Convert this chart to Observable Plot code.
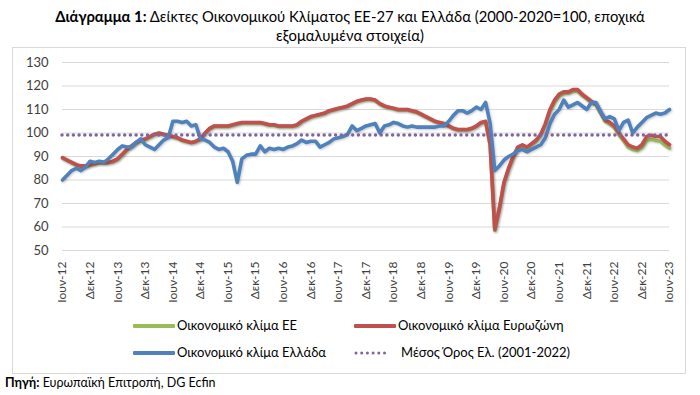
<!DOCTYPE html>
<html>
<head>
<meta charset="utf-8">
<script src="https://cdn.jsdelivr.net/npm/d3@7"></script>
<script src="https://cdn.jsdelivr.net/npm/@observablehq/plot@0.6"></script>
<style>
  body { margin:0; width:700px; height:395px; position:relative; background:#fff; font-family: Lato, "Open Sans", sans-serif; overflow:hidden; }
  #title { position:absolute; top:7px; left:0; width:700px; text-align:center; font-size:14.8px; line-height:19px; color:#000; }
  #box { position:absolute; left:12px; top:47px; width:672px; height:325px; border:1px solid #d9d9d9; }
  #chart { position:absolute; left:0; top:48px; }
  .leg { position:absolute; font-size:13px; color:#000; white-space:nowrap; }
  .sw { position:absolute; height:4px; border-radius:1px; }
  #source { position:absolute; left:5px; top:375px; font-size:12.5px; color:#000; }
</style>
</head>
<body>
<div id="title"><b>Διάγραμμα 1:</b> Δείκτες Οικονομικού Κλίματος ΕΕ-27 και Ελλάδα (2000-2020=100, εποχικά<br>εξομαλυμένα στοιχεία)</div>
<div id="box"></div>
<div id="chart"></div>
<div id="legend"></div>
<div id="source"><b>Πηγή:</b> Ευρωπαϊκή Επιτροπή, DG Ecfin</div>
<script>
// Monthly data, June 2012 – June 2023
const xTickLabels = ["Ιουν-12","Δεκ-12","Ιουν-13","Δεκ-13","Ιουν-14","Δεκ-14","Ιουν-15","Δεκ-15","Ιουν-16","Δεκ-16","Ιουν-17","Δεκ-17","Ιουν-18","Δεκ-18","Ιουν-19","Δεκ-19","Ιουν-20","Δεκ-20","Ιουν-21","Δεκ-21","Ιουν-22","Δεκ-22","Ιουν-23"];
const yTicks = [50,60,70,80,90,100,110,120,130];

const euroArea = [
  89.5,88.5,87.5,86.5,86,86,86.5,
  87,87.5,87.5,87.5,88,89,91,93,94.5,96,97,97.5,
  98.5,99.5,100,99.5,99,98.5,98,97,96.5,96,96.5,97.5,
  100,102,103,103,103,103,103.5,104,104.5,104.5,104.5,104.5,
  104.5,104,103.5,103.5,103,103,103,103,103.5,105,106,107,
  107.5,108,108.5,109.5,110,110.5,111,111.5,112.5,113.5,114,114.5,
  114.5,114,112.5,111.5,111,110.5,110,110,110,109.5,109,108,
  107,106,105,104.5,104,103,102,101.5,101.5,101.5,102,103,
  104.5,105,95,59,68,79,85,90,94,95,94,95.5,
  97,99.5,104,110,114,116.5,117.5,117.5,118.5,118.5,116.5,115,
  113.5,112.5,109,105.5,104.5,103,100,97.5,95,94,93.5,95,
  98.5,99,98.5,98.5,96.5,95
];
const eu = [
  89.3,88.3,87.3,86.3,85.8,85.8,86.3,
  86.8,87.3,87.3,87.3,87.8,88.8,90.8,92.8,94.3,95.8,96.8,97.3,
  98.3,99.3,99.8,99.3,98.8,98.3,97.8,96.8,96.3,95.8,96.3,97.3,
  99.8,101.8,102.8,102.8,102.8,102.8,103.3,103.8,104.3,104.3,104.3,104.3,
  104.3,103.8,103.3,103.3,102.8,102.8,102.8,102.8,103.3,104.8,105.8,106.8,
  107.3,107.8,108.3,109.3,109.8,110.3,110.8,111.3,112.3,113.3,113.8,114.3,
  114.3,113.8,112.3,111.3,110.8,110.3,109.8,109.8,109.8,109.3,108.8,107.8,
  106.8,105.8,104.8,104.3,103.8,102.8,101.8,101.3,101.3,101.3,101.8,102.8,
  104.3,104.8,94.8,58.5,67.5,78.5,84.5,89.5,93.5,94.5,93.5,95,
  96.5,99,103.5,109.5,113.3,115.8,116.8,117,117.8,117.8,116,114.5,
  113,112,108.5,105,103.8,102.3,99.2,96.7,94,93,92.5,93.8,
  96.8,97.3,96.8,96.5,94.8,93.5
];
const greece = [
  80,82,84,85,84,85.5,88,
  87.5,88,87.5,89,91,93,94.5,94,94,96,97.5,95,
  94,93,95,97,98,105,105,104.5,105,103,103.5,97.5,
  97,96,94,93,93.5,92,88,79,89,90.5,91,91,
  94.5,92,93.5,93,93.5,93,94,94.5,95.5,97,96,96.5,
  96.5,94,95,96,97.5,98,98.5,99.5,103,101,102,103,
  103.5,104,100,103,103.5,104.5,104,103,102.5,103,102.5,102.5,
  102.5,102.5,102.5,103,103,105,107.5,109.5,109.5,108.5,109.5,111,
  110,113,104,84,86,88.5,90,91,92.5,93,92,93,
  94,95,98,104,108,110,114,111,112,113,111.5,110,
  113,113,109,106,107,106,101,104.5,105.5,100,102.5,104.5,
  106.5,107.5,108.5,108,108.5,110
];
const greeceMean = 99.2;

const colors = { eu: "#9bbb59", ea: "#c0504d", gr: "#4f81bd", mean: "#8064a2" };
const idx = (d, i) => i;
const val = d => d;
const lw = 3.6;

const chart = Plot.plot({
  width: 700,
  height: 257,
  marginTop: 14,
  marginBottom: 55,
  marginLeft: 62,
  marginRight: 31,
  style: { fontFamily: "Lato, 'Open Sans', sans-serif", background: "transparent", overflow: "visible" },
  x: { domain: [0, 132] },
  y: { domain: [50, 130] },
  marks: [
    Plot.ruleY(yTicks, { stroke: "#d9d9d9", strokeWidth: 1 }),
    Plot.axisY({ ticks: yTicks, tickSize: 0, tickPadding: 14, fontSize: 13, color: "#404040", label: null }),
    Plot.axisX({ ticks: d3.range(0, 133, 6), tickFormat: i => xTickLabels[i / 6], tickSize: 0, tickPadding: 11, tickRotate: -90, fontSize: 12, color: "#404040", label: null }),
    Plot.lineY(eu, { x: idx, y: val, stroke: colors.eu, strokeWidth: lw, strokeLinejoin: "round" }),
    Plot.lineY(euroArea, { x: idx, y: val, stroke: colors.ea, strokeWidth: lw, strokeLinejoin: "round" }),
    Plot.lineY(greece, { x: idx, y: val, stroke: colors.gr, strokeWidth: lw, strokeLinejoin: "round" }),
    Plot.ruleY([greeceMean], { stroke: colors.mean, strokeWidth: 3.5, strokeDasharray: "0 5.7", strokeLinecap: "round" })
  ]
});
chart.querySelectorAll("g[aria-label='line'] path").forEach(p => p.style.filter = "drop-shadow(1px 1.5px 1px rgba(0,0,0,0.22))");
document.getElementById("chart").appendChild(chart);

// Legend
const legendItems = [
  { label: "Οικονομικό κλίμα ΕΕ", color: colors.eu, x: 133, y: 326, type: "line" },
  { label: "Οικονομικό κλίμα Ευρωζώνη", color: colors.ea, x: 354, y: 326, type: "line" },
  { label: "Οικονομικό κλίμα Ελλάδα", color: colors.gr, x: 133, y: 353, type: "line" },
  { label: "Μέσος Όρος Ελ. (2001-2022)", color: colors.mean, x: 354, y: 353, type: "dots" }
];
const leg = document.getElementById("legend");
for (const it of legendItems) {
  if (it.type === "line") {
    const s = document.createElement("div");
    s.className = "sw";
    s.style.cssText = `left:${it.x}px;top:${it.y - 2}px;width:42px;background:${it.color};`;
    leg.appendChild(s);
    const t = document.createElement("div");
    t.className = "leg";
    t.style.cssText = `left:${it.x + 44}px;top:${it.y - 9}px;`;
    t.textContent = it.label;
    leg.appendChild(t);
  } else {
    const svgNS = "http://www.w3.org/2000/svg";
    const svg = document.createElementNS(svgNS, "svg");
    svg.setAttribute("width", 34); svg.setAttribute("height", 6);
    svg.style.cssText = `position:absolute;left:${it.x}px;top:${it.y - 3}px;`;
    const l = document.createElementNS(svgNS, "line");
    l.setAttribute("x1", 2); l.setAttribute("x2", 32); l.setAttribute("y1", 3); l.setAttribute("y2", 3);
    l.setAttribute("stroke", it.color); l.setAttribute("stroke-width", 3);
    l.setAttribute("stroke-dasharray", "0 5.7"); l.setAttribute("stroke-linecap", "round");
    svg.appendChild(l);
    leg.appendChild(svg);
    const t = document.createElement("div");
    t.className = "leg";
    t.style.cssText = `left:${it.x + 47}px;top:${it.y - 9}px;`;
    t.textContent = it.label;
    leg.appendChild(t);
  }
}
</script>
</body>
</html>
